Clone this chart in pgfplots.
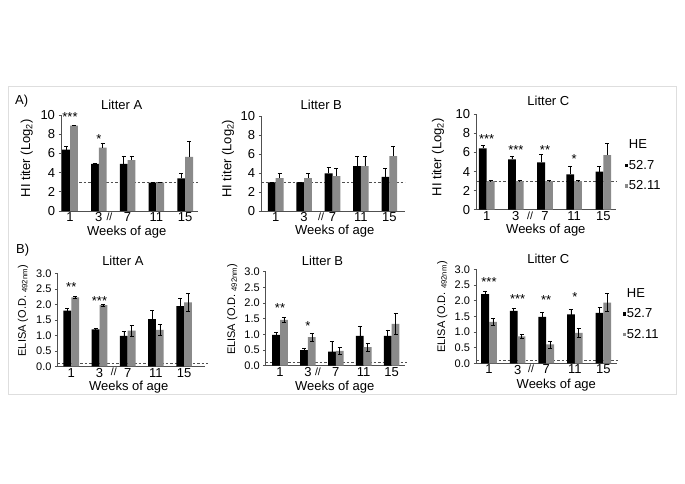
\documentclass[border=0pt]{standalone}
\usepackage{fontspec}
\setmainfont{Liberation Sans}
\usepackage{pgfplots}
\pgfplotsset{compat=1.18}
\usepackage{pgfplotstable}

\definecolor{bargray}{RGB}{138,138,138}
\definecolor{axgray}{RGB}{80,80,80}
\definecolor{framegray}{RGB}{222,222,222}

\newcommand{\fA}{\fontsize{13bp}{15.6bp}\selectfont}
\newcommand{\fB}{\fontsize{11bp}{13.2bp}\selectfont}
\newcommand{\fS}{\fontsize{10.5bp}{12bp}\selectfont}

% HI titer (Log2): x = week index, b = HE 52.7, g = HE 52.11
\pgfplotstableread{
x b be g ge
0 6.4 0.3 8.9 0.05
1 4.9 0.05 6.6 0.5
2 4.9 0.8 5.3 0.4
3 2.95 0.02 2.95 0.02
4 3.4 0.5 5.65 1.65
}\hiA
\pgfplotstableread{
x b be g ge
0 3.0 0.02 3.45 0.5
1 3.0 0.02 3.45 0.5
2 3.95 0.6 3.67 0.8
3 4.72 1.05 4.72 1.05
4 3.6 0.88 5.77 1.05
}\hiB
\pgfplotstableread{
x b be g ge
0 6.43 0.35 3.0 0.03
1 5.28 0.28 3.0 0.03
2 4.97 0.83 3.0 0.03
3 3.7 0.88 3.0 0.03
4 3.99 0.59 5.73 1.23
}\hiC
% ELISA (O.D. 492nm)
\pgfplotstableread{
x b be g ge
0 1.8 0.075 2.23 0.04
1 1.2 0.03 1.98 0.03
2 0.99 0.14 1.16 0.17
3 1.53 0.29 1.18 0.18
4 1.95 0.26 2.07 0.3
}\elA
\pgfplotstableread{
x b be g ge
0 0.98 0.08 1.46 0.07
1 0.5 0.05 0.91 0.12
2 0.45 0.32 0.47 0.12
3 0.95 0.32 0.59 0.12
4 0.95 0.19 1.33 0.34
}\elB
\pgfplotstableread{
x b be g ge
0 2.21 0.1 1.32 0.11
1 1.67 0.08 0.86 0.07
2 1.48 0.14 0.6 0.11
3 1.56 0.17 0.97 0.14
4 1.61 0.17 1.94 0.29
}\elC

\tikzset{
  brk/.style={anchor=north, font=\fS, inner sep=0pt, yshift=-1.5bp},
  star/.style={font=\fA, inner sep=0pt},
}
\pgfplotsset{
  panel/.style={
    scale only axis, clip=false, ybar, bar width=7.8bp,
    axis x line*=bottom, axis y line*=left,
    axis line style={axgray, line width=0.7bp},
    xtick={0,1,2,3,4}, xticklabels={1,3,7,11,15},
    xtick style={draw=none},
    ytick style={axgray, line width=0.7bp},
    tick align=outside, major tick length=2.5bp,
    ticklabel style={font=\fA},
    xticklabel style={inner sep=0.5bp, yshift=1.5bp},
    title style={font=\fA, anchor=center},
    xlabel={Weeks of age},
    xlabel style={font=\fA, anchor=center, inner sep=0pt},
    ylabel style={font=\fA, anchor=center},
    legend cell align=left,
    legend style={draw=none, fill=none, font=\fA, anchor=north west, inner sep=0pt, row sep=9bp,
      nodes={inner sep=0.5bp}},
  },
  hi/.style={ymin=0, ymax=10, ytick={0,2,4,6,8,10}, yticklabels={0,2,4,6,8,10},
    ylabel={HI titer (Log\textsubscript{2})}},
  el/.style={ymin=0, ymax=3, ytick={0,0.5,1,1.5,2,2.5,3},
    yticklabels={0.0,0.5,1.0,1.5,2.0,2.5,3.0}, yticklabel style={font=\fB},
    ylabel={ELISA (O.D. \textsubscript{492nm})}},
  blk/.style={fill=black, draw=none, bar shift=-3.9bp,
    legend image code/.code={\fill[black] (0bp,-1.6bp) rectangle (3.2bp,1.6bp);}},
  gry/.style={fill=bargray, draw=none, bar shift=3.9bp,
    legend image code/.code={\fill[bargray] (0bp,-1.6bp) rectangle (3.2bp,1.6bp);}},
  ebcommon/.style={error bars/y explicit,
    error bars/error bar style={draw=black, line width=0.6bp, solid},
    error bars/error mark options={rotate=90, mark size=2bp, draw=black, line width=0.6bp}},
  ebplus/.style={ebcommon, error bars/y dir=plus},
  ebboth/.style={ebcommon, error bars/y dir=both},
  refline/.style={sharp plot, forget plot, draw=axgray, line width=0.6bp, dash pattern=on 2.5bp off 2bp, mark=none},
}

\begin{document}
\begin{tikzpicture}
\useasboundingbox (0,0) rectangle (685bp,484bp);
\fill[white] (0,0) rectangle (685bp,484bp);
\draw[framegray, line width=1bp] (8bp,89bp) rectangle (676bp,397bp);
\node[anchor=west, font=\fA, inner sep=0pt] at (15bp,383bp) {A)};
\node[anchor=west, font=\fA, inner sep=0pt] at (16bp,233.5bp) {B)};

% ---------- Top A ----------
\begin{axis}[panel, hi, at={(61bp,273bp)}, anchor=south west,
  width=137bp, height=96bp, xmin=-0.3125, xmax=4.444,
  title={Litter A}, title style={at={(axis description cs:0.443,1)}, yshift=4bp},
  xlabel style={at={(axis description cs:0.48,0)}, yshift=-21.2bp},
  ylabel style={at={(axis description cs:-0.25,0.549)}}]
\addplot[refline] coordinates {(-0.3125,3) (4.444,3)};
\addplot[blk, ebplus] table[x=x, y=b, y error=be] {\hiA};
\addplot[gry, ebplus] table[x=x, y=g, y error=ge] {\hiA};
\node[star] at (axis cs:0,9.75) {***};
\node[star] at (axis cs:1,7.47) {*};
\node[brk] at (axis cs:1.37,0) {//};
\end{axis}

% ---------- Top B ----------
\begin{axis}[panel, hi, at={(261bp,273bp)}, anchor=south west,
  width=144bp, height=95bp, xmin=-0.518, xmax=4.553,
  title={Litter B}, title style={at={(axis description cs:0.419,1)}, yshift=5bp},
  xlabel style={at={(axis description cs:0.512,0)}, yshift=-20.5bp},
  ylabel style={at={(axis description cs:-0.229,0.55)}}]
\addplot[refline] coordinates {(-0.518,3) (4.553,3)};
\addplot[blk, ebplus] table[x=x, y=b, y error=be] {\hiB};
\addplot[gry, ebplus] table[x=x, y=g, y error=ge] {\hiB};
\node[brk] at (axis cs:1.6,0) {//};
\end{axis}

% ---------- Top C ----------
\begin{axis}[panel, hi, at={(476bp,274.3bp)}, anchor=south west,
  width=139.7bp, height=95.4bp, xmin=-0.367, xmax=4.425,
  title={Litter C}, title style={at={(axis description cs:0.518,1)}, yshift=7.6bp},
  xlabel style={at={(axis description cs:0.5,0)}, yshift=-20.8bp},
  ylabel style={at={(axis description cs:-0.272,0.55)}},
  legend style={at={(axis description cs:1.067,0.741)}}]
\addlegendimage{empty legend}\addlegendentry{HE}
\addplot[refline] coordinates {(-0.367,3) (4.425,3)};
\addplot[blk, ebplus] table[x=x, y=b, y error=be] {\hiC};
\addlegendentry{52.7}
\addplot[gry, ebplus] table[x=x, y=g, y error=ge] {\hiC};
\addlegendentry{52.11}
\node[star] at (axis cs:0,7.38) {***};
\node[star] at (axis cs:1,6.23) {***};
\node[star] at (axis cs:2,6.23) {**};
\node[star] at (axis cs:3,5.28) {*};
\node[brk] at (axis cs:1.49,0) {//};
\end{axis}

% ---------- Bottom A ----------
\begin{axis}[panel, el, at={(57.5bp,117.5bp)}, anchor=south west,
  width=147.5bp, height=93bp, xmin=-0.489, xmax=4.74,
  title={Litter A}, title style={at={(axis description cs:0.443,1)}, yshift=6.5bp},
  xlabel style={at={(axis description cs:0.483,0)}, yshift=-20.7bp},
  ylabel style={at={(axis description cs:-0.234,0.6)}, font=\fB}]
\addplot[refline] coordinates {(-0.489,0.1) (4.85,0.1)};
\addplot[blk, ebboth] table[x=x, y=b, y error=be] {\elA};
\addplot[gry, ebboth] table[x=x, y=g, y error=ge] {\elA};
\node[star] at (axis cs:0,2.55) {**};
\node[star] at (axis cs:1,2.12) {***};
\node[brk] at (axis cs:1.51,0) {//};
\end{axis}

% ---------- Bottom B ----------
\begin{axis}[panel, el, at={(265.7bp,118.3bp)}, anchor=south west,
  width=139.3bp, height=94.1bp, xmin=-0.513, xmax=4.48,
  title={Litter B}, title style={at={(axis description cs:0.408,1)}, yshift=4.6bp},
  xlabel style={at={(axis description cs:0.495,0)}, yshift=-21.5bp},
  ylabel style={at={(axis description cs:-0.24,0.6)}, font=\fB}]
\addplot[refline] coordinates {(-0.513,0.1) (4.55,0.1)};
\addplot[blk, ebboth] table[x=x, y=b, y error=be] {\elB};
\addplot[gry, ebboth] table[x=x, y=g, y error=ge] {\elB};
\node[star] at (axis cs:0,1.85) {**};
\node[star] at (axis cs:1,1.27) {*};
\node[brk] at (axis cs:1.36,0) {//};
\end{axis}

% ---------- Bottom C ----------
\begin{axis}[panel, el, at={(476bp,120.7bp)}, anchor=south west,
  width=140.7bp, height=94bp, xmin=-0.455, xmax=4.465,
  title={Litter C}, title style={at={(axis description cs:0.514,1)}, yshift=4.3bp},
  xlabel style={at={(axis description cs:0.571,0)}, yshift=-21.5bp},
  ylabel style={at={(axis description cs:-0.24,0.6)}, font=\fB},
  legend style={at={(axis description cs:1.045,0.806)}}]
\addlegendimage{empty legend}\addlegendentry{HE}
\addplot[refline] coordinates {(-0.455,0.1) (4.5,0.1)};
\addplot[blk, ebboth] table[x=x, y=b, y error=be] {\elC};
\addlegendentry{52.7}
\addplot[gry, ebboth] table[x=x, y=g, y error=ge] {\elC};
\addlegendentry{52.11}
\node[star] at (axis cs:0,2.58) {***};
\node[star] at (axis cs:1,2.05) {***};
\node[star] at (axis cs:2,2.02) {**};
\node[star] at (axis cs:3,2.13) {*};
\node[brk] at (axis cs:1.47,0) {//};
\end{axis}
\end{tikzpicture}
\end{document}
